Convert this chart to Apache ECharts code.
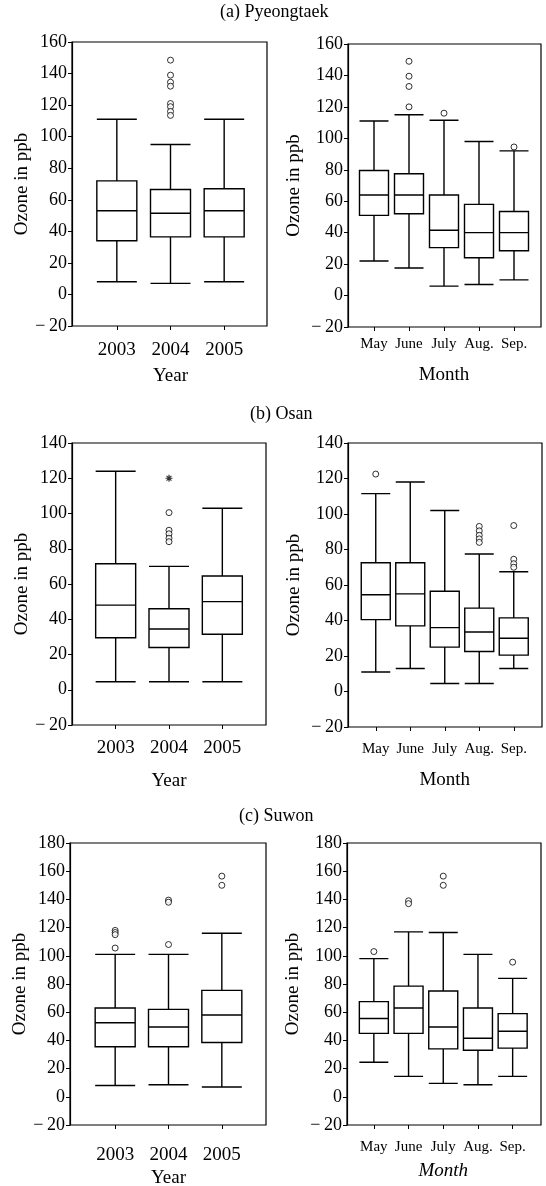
<!DOCTYPE html>
<html>
<head>
<meta charset="utf-8">
<script src="https://cdn.jsdelivr.net/npm/echarts@6/dist/echarts.min.js"></script>
<style>
html,body{margin:0;padding:0;background:#fff;}
#chart{width:546px;height:1186px;}
</style>
</head>
<body>
<div id="chart"></div>
<script>
// ---------- data ----------
const yearCats = ['2003', '2004', '2005'];
const monthCats = ['May', 'June', 'July', 'Aug.', 'Sep.'];
const yTitle = 'Ozone in ppb';

// boxplot: [lower whisker, Q1, median, Q3, upper whisker]
const pyeongtaekYearBox = [[8, 34, 53, 72, 111], [7, 36.5, 51.5, 66.5, 95], [8, 36.5, 53, 67, 111]];
const pyeongtaekYearOut = [[1, 148.5], [1, 139], [1, 134.5], [1, 132], [1, 121], [1, 119], [1, 116], [1, 113.5]];
const pyeongtaekMonthBox = [[22, 51, 64, 79.5, 111], [17.5, 52, 64, 77.5, 115], [6, 30.5, 41.5, 64, 111.5], [7, 24, 40, 58, 98], [10, 28.5, 40, 53.5, 92]];
const pyeongtaekMonthOut = [[1, 149], [1, 139.5], [1, 133], [1, 120], [2, 116], [4, 94.5]];

const osanYearBox = [[4.5, 29.5, 48, 71.5, 124], [4.5, 24, 34.5, 46, 70], [4.5, 31.5, 50, 64.5, 103]];
const osanYearOut = [[1, 100.5], [1, 90.5], [1, 88.5], [1, 86], [1, 84]];
const osanYearExt = [[1, 120]];
const osanMonthBox = [[11, 40.5, 54.5, 72.5, 111.5], [13, 37, 55, 72.5, 118], [4.5, 25, 36, 56.5, 102], [4.5, 22.5, 33.5, 47, 77.5], [13, 20.5, 30, 41.5, 67.5]];
const osanMonthOut = [[0, 122.5], [3, 93], [3, 90.5], [3, 88], [3, 86], [3, 84], [4, 93.5], [4, 74.5], [4, 72], [4, 70]];

const suwonYearBox = [[8, 35.5, 52.5, 63, 101], [8.5, 35.5, 49.5, 62, 101], [7, 38.5, 58, 75.5, 116]];
const suwonYearOut = [[0, 118], [0, 116.5], [0, 115], [0, 105.5], [1, 139.5], [1, 138], [1, 108], [2, 156.5], [2, 150]];
const suwonMonthBox = [[24.5, 45, 55.5, 67.5, 98], [14.5, 45, 63, 78.5, 117], [9.5, 34, 49.5, 75, 116.5], [8.5, 33, 41.5, 63, 101], [14.5, 34.5, 46.5, 59, 84]];
const suwonMonthOut = [[0, 103], [1, 139], [1, 137], [2, 156.5], [2, 150], [4, 95.5]];

const titles = ['(a) Pyeongtaek', '(b) Osan', '(c) Suwon'];

// ---------- layout ----------
const FONT = 'Liberation Serif';
const panels = [
  {fx: 72, fy: 42, fr: 267, fb: 326, dl: 90, dr: 251, cats: yearCats, box: pyeongtaekYearBox, out: pyeongtaekYearOut, ext: [], ymax: 160, xname: 'Year', bw: 40, lfs: 19, lo: 24, no: 51, italic: false, yg: 40},
  {fx: 348, fy: 44, fr: 541, fb: 327, dl: 356.5, dr: 531.5, cats: monthCats, box: pyeongtaekMonthBox, out: pyeongtaekMonthOut, ext: [], ymax: 160, xname: 'Month', bw: 29, lfs: 15, lo: 17, no: 49, italic: false, yg: 44},
  {fx: 72, fy: 443, fr: 266, fb: 725, dl: 89, dr: 249, cats: yearCats, box: osanYearBox, out: osanYearOut, ext: osanYearExt, ymax: 140, xname: 'Year', bw: 40, lfs: 19, lo: 23, no: 57, italic: false, yg: 40},
  {fx: 348, fy: 443, fr: 542, fb: 727, dl: 358.5, dr: 531, cats: monthCats, box: osanMonthBox, out: osanMonthOut, ext: [], ymax: 140, xname: 'Month', bw: 29, lfs: 15, lo: 22, no: 54, italic: false, yg: 44},
  {fx: 70, fy: 843, fr: 266, fb: 1125, dl: 88.5, dr: 248.5, cats: yearCats, box: suwonYearBox, out: suwonYearOut, ext: [], ymax: 180, xname: 'Year', bw: 40, lfs: 19, lo: 30, no: 54, italic: false, yg: 40},
  {fx: 347, fy: 843, fr: 541, fb: 1125, dl: 356.5, dr: 530, cats: monthCats, box: suwonMonthBox, out: suwonMonthOut, ext: [], ymax: 180, xname: 'Month', bw: 29, lfs: 15, lo: 22, no: 46, italic: true, yg: 44}
];
const titlePos = [[220, 3], [250, 405], [239, 807]];

const minusFmt = v => v < 0 ? '\u2212\u2009' + Math.abs(v) : String(v);

const option = {
  backgroundColor: '#fff',
  animation: false,
  textStyle: {fontFamily: FONT, color: '#000'},
  title: titles.map((t, i) => ({
    text: t, left: titlePos[i][0], top: titlePos[i][1], padding: 0,
    textStyle: {fontFamily: FONT, fontSize: 18, fontWeight: 'normal', color: '#000'}
  })),
  grid: [], xAxis: [], yAxis: [], series: []
};

panels.forEach((p, i) => {
  const fg = i * 2, dg = i * 2 + 1;
  // frame grid
  option.grid.push({left: p.fx, top: p.fy, width: p.fr - p.fx, height: p.fb - p.fy,
    outerBoundsMode: 'none', containLabel: false,
    show: true, borderColor: '#000', borderWidth: 1.2, backgroundColor: 'transparent'});
  // data grid
  option.grid.push({left: p.dl, top: p.fy, width: p.dr - p.dl, height: p.fb - p.fy,
    outerBoundsMode: 'none', containLabel: false, show: false});

  option.xAxis.push({gridIndex: fg, type: 'value', show: false, min: 0, max: 1});
  option.yAxis.push({gridIndex: fg, type: 'value', min: -20, max: p.ymax, interval: 20,
    axisLine: {show: true, onZero: false, lineStyle: {color: '#000', width: 1.2}},
    axisTick: {show: true, length: 4, lineStyle: {color: '#000', width: 1}},
    splitLine: {show: false},
    axisLabel: {fontFamily: FONT, fontSize: 18, color: '#000', margin: 5, formatter: minusFmt},
    name: yTitle, nameLocation: 'middle', nameGap: p.yg,
    nameTextStyle: {fontFamily: FONT, fontSize: 19, color: '#000'}
  });

  option.xAxis.push({gridIndex: dg, type: 'category', data: p.cats, boundaryGap: true, position: 'bottom',
    axisLine: {show: false, onZero: false},
    axisTick: {show: true, alignWithLabel: true, length: 4, lineStyle: {color: '#000', width: 1}},
    axisLabel: {fontFamily: FONT, fontSize: p.lfs, color: '#000', margin: p.lo - p.lfs / 2, interval: 0},
    splitLine: {show: false},
    name: p.xname, nameLocation: 'middle', nameGap: p.no - 10,
    nameTextStyle: {fontFamily: FONT, fontSize: 19, color: '#000', fontStyle: p.italic ? 'italic' : 'normal'}
  });
  option.yAxis.push({gridIndex: dg, type: 'value', min: -20, max: p.ymax, show: false});

  option.series.push({
    type: 'boxplot', xAxisIndex: i * 2 + 1, yAxisIndex: i * 2 + 1,
    data: p.box, boxWidth: [p.bw, p.bw],
    itemStyle: {color: '#fff', borderColor: '#000', borderWidth: 1.4},
    emphasis: {disabled: true}
  });
  option.series.push({
    type: 'scatter', xAxisIndex: i * 2 + 1, yAxisIndex: i * 2 + 1,
    data: p.out, symbol: 'circle', symbolSize: 6,
    itemStyle: {color: '#fff', borderColor: '#000', borderWidth: 1}
  });
  if (p.ext.length) {
    option.series.push({
      type: 'scatter', xAxisIndex: i * 2 + 1, yAxisIndex: i * 2 + 1,
      data: p.ext, symbol: 'path://M5 0L5 10M0 5L10 5M1.5 1.5L8.5 8.5M8.5 1.5L1.5 8.5', symbolSize: 7,
      itemStyle: {color: 'none', borderColor: '#000', borderWidth: 1.2}
    });
  }
});

const chart = echarts.init(document.getElementById('chart'), null, {renderer: 'canvas'});
chart.setOption(option);
</script>
</body>
</html>
